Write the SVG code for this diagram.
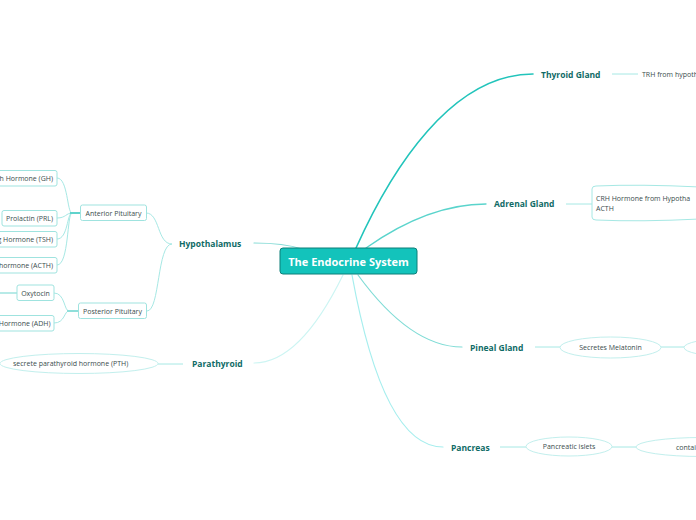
<svg xmlns="http://www.w3.org/2000/svg" width="696" height="520" viewBox="0 0 696 520">
<style>
.main{font-family:"Open Sans","Noto Sans",sans-serif;font-weight:bold;font-size:8.5px;fill:#0f6b66}
.sm{font-family:"Open Sans","Noto Sans",sans-serif;font-size:7px;fill:#3a4d4d}
.box{fill:#ffffff;stroke:#9fe3df;stroke-width:1}
.ell{fill:#ffffff;stroke:#c2efed;stroke-width:1}
.c{fill:none;stroke-linecap:round}
.sub{fill:none;stroke:#a6e8e4;stroke-width:1}
</style>
<rect width="696" height="520" fill="#ffffff"/>
<g id="connectors">
<path class="c" d="M356,248 C392,168 452,74 533,74" stroke="#22c4bb" stroke-width="1.6"/>
<path class="c" d="M366,248 C400,224 440,204 486,204" stroke="#5ad4cc" stroke-width="1.3"/>
<path class="c" d="M358,275 C385,312 420,347 462,347" stroke="#80dcd6" stroke-width="1.2"/>
<path class="c" d="M352,275 C366,352 392,447 443,447" stroke="#a6eeee" stroke-width="1.2"/>
<path class="c" d="M343,275 C320,322 290,363 254,363" stroke="#cdf5f3" stroke-width="1.2"/>
<path class="c" d="M302,249 C290,245 276,243 254,243" stroke="#86dbd6" stroke-width="1.2"/>
<path class="sub" d="M612,74 L638,74"/>
<path class="sub" d="M566,204 L592,204"/>
<path class="sub" d="M535,347 L560,347" stroke="#c2efed"/>
<path class="sub" d="M661,347 L685,347" stroke="#c2efed"/>
<path class="sub" d="M500,447 L526,447" stroke="#cdf3f2"/>
<path class="sub" d="M612,447 L636,447" stroke="#cdf3f2"/>
<path class="sub" d="M158,364 L183,364" stroke="#daf6f5"/>
<path class="sub" d="M146,213 C160,213 157,244 172,244"/>
<path class="sub" d="M147,311 C160,311 157,244 172,244"/>
<path class="sub" d="M57,178 C68,178 67,213 72,213"/>
<path class="sub" d="M57,218 C66,218 66,213 72,213"/>
<path class="sub" d="M57,239 C68,239 67,213 72,213"/>
<path class="sub" d="M57,265 C69,265 67,213 72,213"/>
<path d="M70,213 L80,213" stroke="#5fd3cc" stroke-width="2"/>
<path class="sub" d="M54,293 C65,293 64,311 69,311"/>
<path class="sub" d="M54,323 C65,323 64,311 69,311"/>
<path d="M67,311 L78,311" stroke="#8fdfda" stroke-width="2"/>
<path d="M0,293 L17,293" stroke="#9fe3df" stroke-width="1.5"/>
</g>
<g id="center">
<rect x="280" y="248" width="137" height="26" rx="3" fill="#13c3bb" stroke="#0d7f79" stroke-width="1"/>
<text x="348.5" y="265.5" text-anchor="middle" font-family="Open Sans, Noto Sans, sans-serif" font-weight="bold" font-size="11" fill="#ffffff">The Endocrine System</text>
</g>
<g id="thyroid"><text class="main" x="541" y="77.5">Thyroid Gland</text></g>
<g id="trh"><text class="sm" x="642" y="76.5">TRH from hypoth</text></g>
<g id="adrenal"><text class="main" x="494" y="207">Adrenal Gland</text></g>
<g id="crh">
<path d="M592,189 Q592,186 596,186 Q640,184 700,187 L700,219 Q640,222 596,220 Q592,220 592,217 Z" fill="#ffffff" stroke="#a6e8e4" stroke-width="1"/>
<text class="sm" x="596" y="201">CRH Hormone from Hypotha</text>
<text class="sm" x="596" y="211">ACTH</text>
</g>
<g id="pineal"><text class="main" x="470" y="350.5">Pineal Gland</text></g>
<g id="melatonin">
<ellipse class="ell" cx="610.5" cy="347.5" rx="50.5" ry="10.5"/>
<text class="sm" x="610.5" y="350" text-anchor="middle">Secretes Melatonin</text>
</g>
<g id="pineal-next"><ellipse class="ell" cx="730" cy="347.5" rx="46" ry="9"/></g>
<g id="pancreas"><text class="main" x="451" y="450.5">Pancreas</text></g>
<g id="islets">
<ellipse class="ell" cx="569" cy="446.5" rx="43" ry="9.5" stroke="#cdf3f2"/>
<text class="sm" x="569" y="449" text-anchor="middle">Pancreatic islets</text>
</g>
<g id="contains">
<ellipse class="ell" cx="702" cy="447" rx="66" ry="9.5" stroke="#cdf3f2"/>
<text class="sm" x="676" y="449.5">contai</text>
</g>
<g id="parathyroid"><text class="main" x="192" y="366.5">Parathyroid</text></g>
<g id="pth">
<ellipse class="ell" cx="79" cy="363.5" rx="79" ry="10" stroke="#dcf7f6"/>
<text class="sm" x="13" y="366">secrete parathyroid hormone (PTH)</text>
</g>
<g id="hypothalamus"><text class="main" x="179" y="247">Hypothalamus</text></g>
<g id="anterior">
<rect class="box" x="80.5" y="205" width="66" height="15.5" rx="2"/>
<text class="sm" x="113.5" y="215.5" text-anchor="middle">Anterior Pituitary</text>
</g>
<g id="posterior">
<rect class="box" x="78.5" y="303" width="68" height="15.5" rx="2"/>
<text class="sm" x="112.5" y="313.5" text-anchor="middle">Posterior Pituitary</text>
</g>
<g id="gh">
<rect class="box" x="-20" y="170.5" width="77" height="15.5" rx="2"/>
<text class="sm" x="53" y="181" text-anchor="end">h Hormone (GH)</text>
</g>
<g id="prl">
<rect class="box" x="2" y="210.5" width="55" height="15.5" rx="2"/>
<text class="sm" x="29.5" y="221" text-anchor="middle">Prolactin (PRL)</text>
</g>
<g id="tsh">
<rect class="box" x="-20" y="231.5" width="77" height="15.5" rx="2"/>
<text class="sm" x="53" y="242" text-anchor="end">g Hormone (TSH)</text>
</g>
<g id="acth">
<rect class="box" x="-20" y="257.5" width="77" height="15.5" rx="2"/>
<text class="sm" x="53" y="268" text-anchor="end">hormone (ACTH)</text>
</g>
<g id="oxytocin">
<rect class="box" x="17" y="285" width="37" height="15.5" rx="2"/>
<text class="sm" x="35.5" y="295.5" text-anchor="middle">Oxytocin</text>
</g>
<g id="adh">
<rect class="box" x="-20" y="315.5" width="74" height="15.5" rx="2"/>
<text class="sm" x="50.5" y="326" text-anchor="end">Hormone (ADH)</text>
</g>
</svg>
